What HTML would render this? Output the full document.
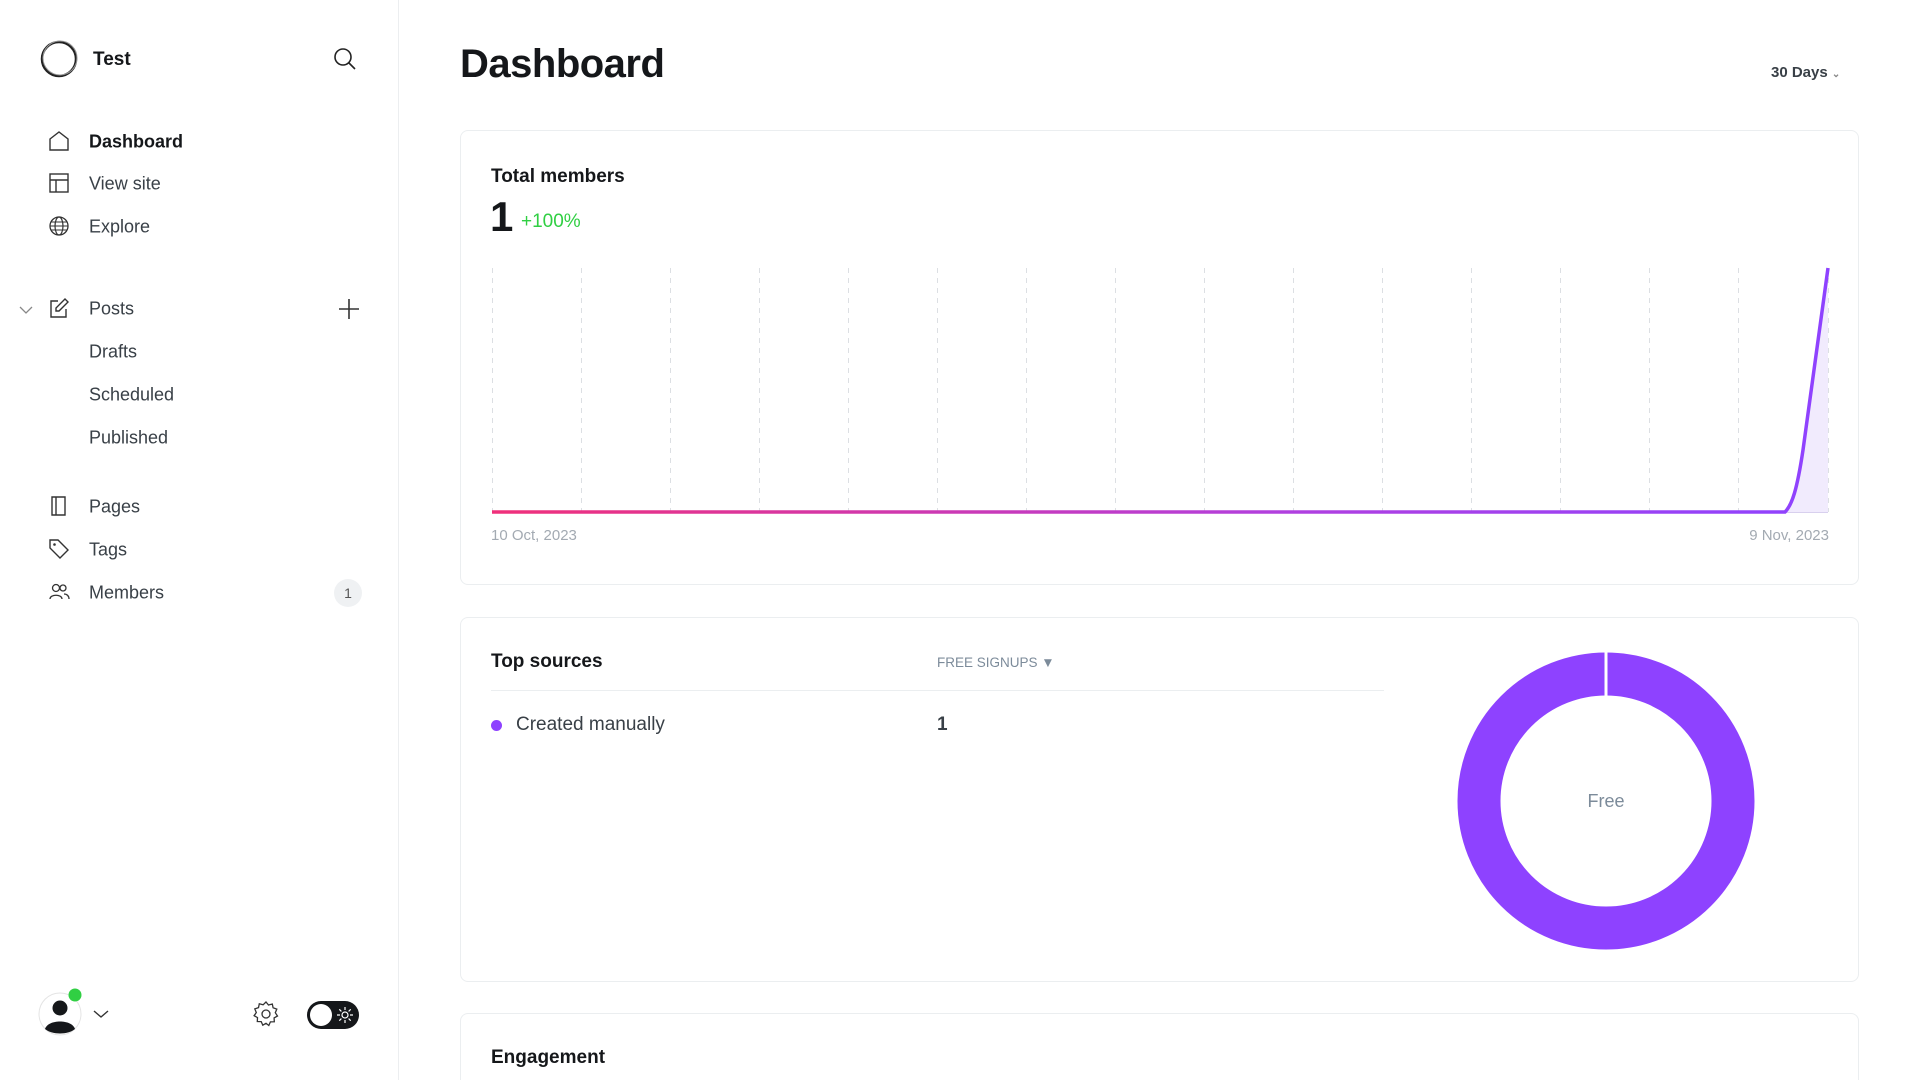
<!DOCTYPE html>
<html style="overflow:hidden;height:1080px"><head><meta charset="utf-8"><style>
*{box-sizing:border-box;margin:0;padding:0}
body{width:1920px;height:1080px;overflow:hidden;background:#fff;font-family:"Liberation Sans",sans-serif;color:#15171a;position:relative}
.a{position:absolute;white-space:nowrap}
.side{position:absolute;left:0;top:0;width:399px;height:1080px;border-right:1px solid #eceef0}
.nav{position:absolute;left:89px;font-size:18px;color:#394047;transform:translateY(-50%)}
.ic{position:absolute;transform:translate(-50%,-50%)}
.card{position:absolute;left:460px;width:1399px;border:1px solid #ebeef0;border-radius:8px}
</style></head><body>
<div class="side">
<svg class="ic" style="left:59px;top:59px" width="40" height="40" viewBox="0 0 40 40"><circle cx="20" cy="20" r="17" fill="none" stroke="#222" stroke-width="2.5"/><circle cx="21" cy="19" r="17" fill="none" stroke="#999" stroke-width="1"/></svg>
<div class="a" style="left:93px;top:49px;font-size:19px;font-weight:bold">Test</div>
<svg class="ic" style="left:345px;top:59px" width="24" height="24" viewBox="0 0 24 24"><circle cx="10" cy="10" r="8" fill="none" stroke="#222" stroke-width="1.6"/><line x1="16" y1="16" x2="22" y2="22" stroke="#222" stroke-width="1.6"/></svg>

<svg class="ic" style="left:59px;top:141px" width="22" height="22" viewBox="0 0 22 22"><path d="M2 9L11 2L20 9V20H2Z" fill="none" stroke="#333" stroke-width="1.4"/></svg>
<div class="nav" style="top:142px;font-weight:bold;color:#15171a">Dashboard</div>
<svg class="ic" style="left:59px;top:183px" width="22" height="22" viewBox="0 0 22 22"><rect x="2" y="2" width="18" height="18" fill="none" stroke="#333" stroke-width="1.4"/><path d="M2 8H20M8 8V20" stroke="#333" stroke-width="1.4"/></svg>
<div class="nav" style="top:184px">View site</div>
<svg class="ic" style="left:59px;top:226px" width="22" height="22" viewBox="0 0 22 22"><circle cx="11" cy="11" r="9" fill="none" stroke="#333" stroke-width="1.3"/><ellipse cx="11" cy="11" rx="4" ry="9" fill="none" stroke="#333" stroke-width="1.2"/><path d="M2 11H20M3.5 7H18.5M3.5 15H18.5" stroke="#333" stroke-width="1.1"/></svg>
<div class="nav" style="top:227px">Explore</div>

<svg class="ic" style="left:26px;top:310px" width="14" height="10" viewBox="0 0 14 10"><path d="M1 2L7 8L13 2" fill="none" stroke="#888" stroke-width="1.3"/></svg>
<svg class="ic" style="left:59px;top:308px" width="22" height="22" viewBox="0 0 22 22"><path d="M10 4H3V20H18V12" fill="none" stroke="#333" stroke-width="1.4"/><path d="M17 2L20 5L11 14H8V11Z" fill="none" stroke="#333" stroke-width="1.4"/></svg>
<div class="nav" style="top:309px">Posts</div>
<svg class="ic" style="left:349px;top:309px" width="24" height="24" viewBox="0 0 24 24"><path d="M12 2V22M2 12H22" stroke="#333" stroke-width="1.6"/></svg>
<div class="nav" style="top:352px">Drafts</div>
<div class="nav" style="top:395px">Scheduled</div>
<div class="nav" style="top:438px">Published</div>

<svg class="ic" style="left:59px;top:506px" width="22" height="22" viewBox="0 0 22 22"><path d="M4 2H17V20H4Z M8 2V20" fill="none" stroke="#333" stroke-width="1.4"/></svg>
<div class="nav" style="top:507px">Pages</div>
<svg class="ic" style="left:59px;top:549px" width="22" height="22" viewBox="0 0 22 22"><path d="M2 2H10L20 12L12 20L2 10Z" fill="none" stroke="#333" stroke-width="1.4"/><circle cx="6.5" cy="6.5" r="1.3" fill="#333"/></svg>
<div class="nav" style="top:550px">Tags</div>
<svg class="ic" style="left:59px;top:592px" width="22" height="22" viewBox="0 0 22 22"><circle cx="8" cy="7" r="3.5" fill="none" stroke="#333" stroke-width="1.3"/><path d="M2 18C2 13 14 13 14 18" fill="none" stroke="#333" stroke-width="1.3"/><circle cx="15" cy="7" r="3" fill="none" stroke="#333" stroke-width="1.3"/><path d="M16 13C19 13 21 15 21 18" fill="none" stroke="#333" stroke-width="1.3"/></svg>
<div class="nav" style="top:593px">Members</div>
<div class="a" style="left:334px;top:579px;width:28px;height:28px;border-radius:14px;background:#eff1f3;font-size:14px;color:#555;text-align:center;line-height:28px">1</div>

<svg class="ic" style="left:66px;top:1012px" width="56" height="50" viewBox="0 0 56 50"><circle cx="22" cy="27" r="21" fill="#fff" stroke="#e4e4e4"/><circle cx="22" cy="21" r="7.5" fill="#15171a"/><path d="M7 42C10 32 34 32 37 42C30 48 14 48 7 42Z" fill="#15171a"/><circle cx="37" cy="8" r="6.5" fill="#30cf43"/></svg>
<svg class="ic" style="left:101px;top:1014px" width="16" height="10" viewBox="0 0 16 10"><path d="M1 2L8 8L15 2" fill="none" stroke="#333" stroke-width="1.4"/></svg>
<svg class="ic" style="left:266px;top:1014px" width="28" height="28" viewBox="0 0 28 28"><path d="M14 2l2.5 3 3.8-1 .8 3.8 3.7 1.3-1.5 3.6 2.2 3.3-3.4 1.9.2 3.9-3.9.1-1.6 3.6L14 23.3 10.8 25.2l-1.6-3.6-3.9-.1.2-3.9-3.4-1.9L4.3 12.5 2.8 8.9l3.7-1.3.8-3.8 3.8 1z" fill="none" stroke="#333" stroke-width="1.3"/><circle cx="14" cy="14" r="4" fill="none" stroke="#333" stroke-width="1.3"/></svg>
<div class="a" style="left:307px;top:1001px;width:52px;height:28px;border-radius:14px;background:#15171a"></div>
<div class="a" style="left:310px;top:1004px;width:22px;height:22px;border-radius:11px;background:#fff"></div>
<svg class="ic" style="left:345px;top:1015px" width="16" height="16" viewBox="0 0 16 16"><circle cx="8" cy="8" r="3" fill="none" stroke="#fff" stroke-width="1.2"/><path d="M8 0V3M8 13V16M0 8H3M13 8H16M2.3 2.3L4.4 4.4M11.6 11.6L13.7 13.7M2.3 13.7L4.4 11.6M11.6 4.4L13.7 2.3" stroke="#fff" stroke-width="1.2"/></svg>
</div>

<div class="a" style="left:460px;top:42px;font-size:40px;font-weight:bold;letter-spacing:-0.5px">Dashboard</div>
<div class="a" style="left:1771px;top:64px;font-size:15px;font-weight:bold;color:#394047">30 Days <span style="font-size:10px;color:#888">&#8964;</span></div>

<div class="card" style="top:130px;height:455px"></div>
<div class="a" style="left:491px;top:166px;font-size:19px;font-weight:bold">Total members</div>
<div class="a" style="left:490px;top:193px;font-size:42px;font-weight:bold">1</div>
<div class="a" style="left:521px;top:211px;font-size:19px;color:#30cf43">+100%</div>
<svg class="a" style="left:0;top:0" width="1920" height="600">
<defs><linearGradient id="g" x1="492" x2="1828" gradientUnits="userSpaceOnUse"><stop offset="0" stop-color="#f0307a"/><stop offset="0.6" stop-color="#b040e0"/><stop offset="1" stop-color="#8e42ff"/></linearGradient></defs>
<g stroke="#dcdfe3" stroke-width="1" stroke-dasharray="5 5">
<line x1="492.5" y1="268" x2="492.5" y2="512"/><line x1="581.5" y1="268" x2="581.5" y2="512"/><line x1="670.5" y1="268" x2="670.5" y2="512"/><line x1="759.5" y1="268" x2="759.5" y2="512"/><line x1="848.5" y1="268" x2="848.5" y2="512"/><line x1="937.5" y1="268" x2="937.5" y2="512"/><line x1="1026.5" y1="268" x2="1026.5" y2="512"/><line x1="1115.5" y1="268" x2="1115.5" y2="512"/><line x1="1204.5" y1="268" x2="1204.5" y2="512"/><line x1="1293.5" y1="268" x2="1293.5" y2="512"/><line x1="1382.5" y1="268" x2="1382.5" y2="512"/><line x1="1471.5" y1="268" x2="1471.5" y2="512"/><line x1="1560.5" y1="268" x2="1560.5" y2="512"/><line x1="1649.5" y1="268" x2="1649.5" y2="512"/><line x1="1738.5" y1="268" x2="1738.5" y2="512"/><line x1="1828.5" y1="268" x2="1828.5" y2="512"/>
</g>
<line x1="1785" y1="512.5" x2="1828" y2="512.5" stroke="#d8d0ee"/>
<path d="M1785 512C1792 505 1797 490 1803 450L1828 268V512Z" fill="#f1ebfd"/>
<path d="M492 512H1785C1792 505 1797 490 1803 450L1828 268" fill="none" stroke="url(#g)" stroke-width="3.5"/>
</svg>
<div class="a" style="left:491px;top:527px;font-size:15px;color:#a3aab2">10 Oct, 2023</div>
<div class="a" style="left:1729px;top:527px;width:100px;text-align:right;font-size:15px;color:#a3aab2">9 Nov, 2023</div>

<div class="card" style="top:617px;height:365px"></div>
<div class="a" style="left:491px;top:651px;font-size:19px;font-weight:bold">Top sources</div>
<div class="a" style="left:937px;top:655px;font-size:13.5px;color:#7c8b9a">FREE SIGNUPS &#9660;</div>
<div class="a" style="left:491px;top:690px;width:893px;height:1px;background:#ebeef0"></div>
<div class="a" style="left:491px;top:720px;width:11px;height:11px;border-radius:6px;background:#8e42ff"></div>
<div class="a" style="left:516px;top:714px;font-size:19px;color:#394047">Created manually</div>
<div class="a" style="left:937px;top:714px;font-size:19px;font-weight:bold;color:#394047">1</div>
<svg class="a" style="left:1456px;top:651px" width="300" height="300" viewBox="0 0 300 300"><circle cx="150" cy="150" r="127" fill="none" stroke="#8e42ff" stroke-width="43"/><line x1="150" y1="0" x2="150" y2="48" stroke="#fff" stroke-width="3"/></svg>
<div class="a" style="left:1556px;top:791px;width:100px;text-align:center;font-size:18px;color:#7c8b9a">Free</div>

<div class="card" style="top:1013px;height:67px;border-bottom:none;border-radius:8px 8px 0 0"></div>
<div class="a" style="left:491px;top:1047px;font-size:19px;font-weight:bold">Engagement</div>
</body></html>
